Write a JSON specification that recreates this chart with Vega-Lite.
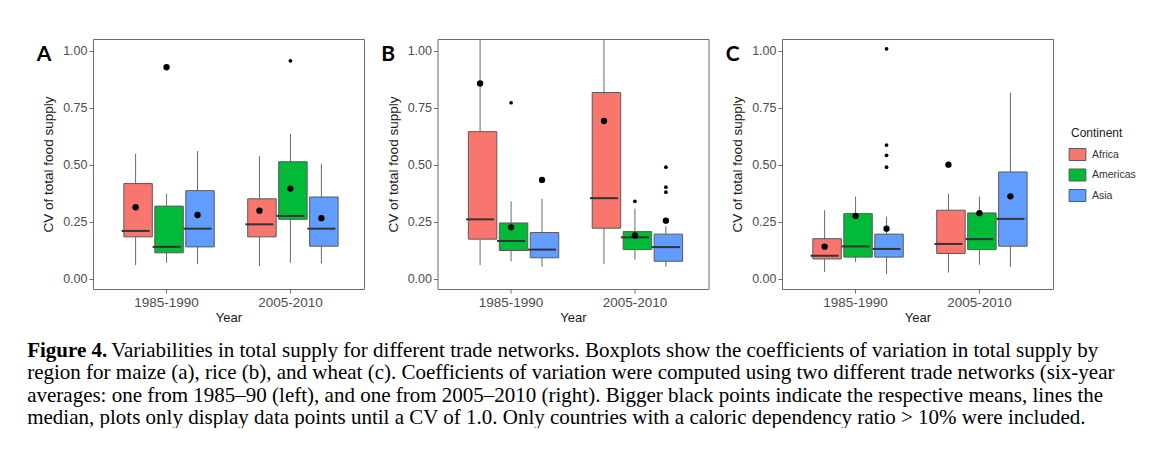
{
  "$schema": "https://vega.github.io/schema/vega-lite/v6.json",
  "background": "white",
  "padding": {"left": 27, "top": 38, "right": 0, "bottom": 0},
  "datasets": {
    "boxes": [
      {"panel": "A", "Year": "1985-1990", "Continent": "Africa", "lower": 0.059, "q1": 0.183, "median": 0.209, "q3": 0.417, "upper": 0.548, "mean": 0.313},
      {"panel": "A", "Year": "1985-1990", "Continent": "Americas", "lower": 0.069, "q1": 0.113, "median": 0.139, "q3": 0.318, "upper": 0.373, "mean": 0.928},
      {"panel": "A", "Year": "1985-1990", "Continent": "Asia", "lower": 0.063, "q1": 0.139, "median": 0.219, "q3": 0.386, "upper": 0.560, "mean": 0.279},
      {"panel": "A", "Year": "2005-2010", "Continent": "Africa", "lower": 0.054, "q1": 0.183, "median": 0.238, "q3": 0.350, "upper": 0.538, "mean": 0.298},
      {"panel": "A", "Year": "2005-2010", "Continent": "Americas", "lower": 0.069, "q1": 0.260, "median": 0.275, "q3": 0.513, "upper": 0.635, "mean": 0.395},
      {"panel": "A", "Year": "2005-2010", "Continent": "Asia", "lower": 0.066, "q1": 0.142, "median": 0.219, "q3": 0.358, "upper": 0.504, "mean": 0.265},
      {"panel": "B", "Year": "1985-1990", "Continent": "Africa", "lower": 0.059, "q1": 0.173, "median": 0.260, "q3": 0.645, "upper": 1.2, "mean": 0.857},
      {"panel": "B", "Year": "1985-1990", "Continent": "Americas", "lower": 0.075, "q1": 0.123, "median": 0.165, "q3": 0.244, "upper": 0.339, "mean": 0.225},
      {"panel": "B", "Year": "1985-1990", "Continent": "Asia", "lower": 0.051, "q1": 0.091, "median": 0.127, "q3": 0.202, "upper": 0.350, "mean": 0.433},
      {"panel": "B", "Year": "2005-2010", "Continent": "Africa", "lower": 0.063, "q1": 0.221, "median": 0.353, "q3": 0.817, "upper": 1.2, "mean": 0.692},
      {"panel": "B", "Year": "2005-2010", "Continent": "Americas", "lower": 0.083, "q1": 0.127, "median": 0.181, "q3": 0.206, "upper": 0.307, "mean": 0.189},
      {"panel": "B", "Year": "2005-2010", "Continent": "Asia", "lower": 0.051, "q1": 0.076, "median": 0.138, "q3": 0.195, "upper": 0.230, "mean": 0.254},
      {"panel": "C", "Year": "1985-1990", "Continent": "Africa", "lower": 0.029, "q1": 0.086, "median": 0.100, "q3": 0.175, "upper": 0.300, "mean": 0.140},
      {"panel": "C", "Year": "1985-1990", "Continent": "Americas", "lower": 0.072, "q1": 0.094, "median": 0.141, "q3": 0.285, "upper": 0.360, "mean": 0.275},
      {"panel": "C", "Year": "1985-1990", "Continent": "Asia", "lower": 0.019, "q1": 0.094, "median": 0.130, "q3": 0.195, "upper": 0.271, "mean": 0.219},
      {"panel": "C", "Year": "2005-2010", "Continent": "Africa", "lower": 0.026, "q1": 0.110, "median": 0.152, "q3": 0.300, "upper": 0.373, "mean": 0.500},
      {"panel": "C", "Year": "2005-2010", "Continent": "Americas", "lower": 0.060, "q1": 0.127, "median": 0.173, "q3": 0.288, "upper": 0.360, "mean": 0.287},
      {"panel": "C", "Year": "2005-2010", "Continent": "Asia", "lower": 0.051, "q1": 0.142, "median": 0.262, "q3": 0.468, "upper": 0.817, "mean": 0.361}
    ],
    "outliers": [
      {"panel": "A", "Year": "2005-2010", "Continent": "Americas", "value": 0.956},
      {"panel": "B", "Year": "1985-1990", "Continent": "Americas", "value": 0.772},
      {"panel": "B", "Year": "2005-2010", "Continent": "Americas", "value": 0.339},
      {"panel": "B", "Year": "2005-2010", "Continent": "Asia", "value": 0.489},
      {"panel": "B", "Year": "2005-2010", "Continent": "Asia", "value": 0.401},
      {"panel": "B", "Year": "2005-2010", "Continent": "Asia", "value": 0.379},
      {"panel": "B", "Year": "2005-2010", "Continent": "Asia", "value": 0.252},
      {"panel": "C", "Year": "1985-1990", "Continent": "Asia", "value": 1.009},
      {"panel": "C", "Year": "1985-1990", "Continent": "Asia", "value": 0.586},
      {"panel": "C", "Year": "1985-1990", "Continent": "Asia", "value": 0.541},
      {"panel": "C", "Year": "1985-1990", "Continent": "Asia", "value": 0.489}
    ]
  },
  "title": {
    "text": "Figure 4.",
    "subtitle": [
      "\u200b\u00a0\u200b\u00a0\u200b\u00a0\u200b\u00a0\u200b\u00a0\u200b\u00a0\u200b\u00a0\u200b\u00a0\u200b\u00a0\u200b\u00a0\u200b\u00a0\u200b\u00a0\u200b\u00a0\u200b\u00a0\u200b\u00a0\u200b\u00a0\u200bVariabilities in total supply for different trade networks. Boxplots show the coefficients of variation in total supply by",
      "region for maize (a), rice (b), and wheat (c). Coefficients of variation were computed using two different trade networks (six-year",
      "averages: one from 1985–90 (left), and one from 2005–2010 (right). Bigger black points indicate the respective means, lines the",
      "median, plots only display data points until a CV of 1.0. Only countries with a caloric dependency ratio > 10% were included."
    ],
    "orient": "bottom",
    "anchor": "start",
    "frame": "bounds",
    "font": "Liberation Serif",
    "fontSize": 21,
    "fontWeight": "bold",
    "color": "black",
    "subtitleFont": "Liberation Serif",
    "subtitleFontSize": 21,
    "subtitleColor": "black",
    "subtitleLineHeight": 22.3,
    "subtitlePadding": -21,
    "offset": 15,
    "dx": -9
  },
  "spacing": 73.5,
  "bounds": "flush",
  "hconcat": [
    {
      "width": 271, "height": 250,
      "title": {"text": "A", "anchor": "start", "frame": "bounds", "font": "Lato", "fontSize": 21, "fontWeight": "bold", "color": "black", "offset": 0, "dy": 26, "dx": -5},
      "layer": [
        {"data": {"name": "boxes"}, "transform": [{"filter": "datum.panel === 'A'"}],
         "mark": {"type": "rule", "color": "#6b6b6b", "strokeWidth": 1, "clip": true},
         "encoding": {
           "x": {"field": "Year", "type": "nominal", "scale": {"paddingInner": 0.25, "paddingOuter": 0.219}, "axis": {"title": "Year", "labelAngle": 0, "labelPadding": 2, "titlePadding": 3, "labelFontSize": 13.5, "titleFontSize": 13}},
           "xOffset": {"field": "Continent", "type": "nominal", "scale": {"domain": ["Africa", "Americas", "Asia"], "paddingInner": 0, "paddingOuter": 0}},
           "y": {"field": "lower", "type": "quantitative", "scale": {"domain": [-0.046, 1.052], "nice": false, "zero": false}, "axis": {"title": "CV of total food supply", "values": [0, 0.25, 0.5, 0.75, 1], "format": ".2f", "titlePadding": 7, "labelFontSize": 12.5, "titleFontSize": 13.5, "labelPadding": 2}},
           "y2": {"field": "upper"}}},
        {"data": {"name": "boxes"}, "transform": [{"filter": "datum.panel === 'A'"}],
         "mark": {"type": "bar", "stroke": "#5a5a5a", "strokeWidth": 1, "width": {"band": 0.92}, "clip": true},
         "encoding": {
           "x": {"field": "Year", "type": "nominal"},
           "xOffset": {"field": "Continent", "type": "nominal"},
           "y": {"field": "q1", "type": "quantitative"},
           "y2": {"field": "q3"},
           "fill": {"field": "Continent", "type": "nominal", "scale": {"domain": ["Africa", "Americas", "Asia"], "range": ["#F8766D", "#00BA38", "#619CFF"]}, "legend": {"title": "Continent"}}}},
        {"data": {"name": "boxes"}, "transform": [{"filter": "datum.panel === 'A'"}],
         "mark": {"type": "tick", "color": "#333333", "thickness": 2, "size": 28, "opacity": 1},
         "encoding": {
           "x": {"field": "Year", "type": "nominal"},
           "xOffset": {"field": "Continent", "type": "nominal"},
           "y": {"field": "median", "type": "quantitative"}}},
        {"data": {"name": "boxes"}, "transform": [{"filter": "datum.panel === 'A'"}],
         "mark": {"type": "point", "filled": true, "color": "black", "size": 40, "opacity": 1},
         "encoding": {
           "x": {"field": "Year", "type": "nominal"},
           "xOffset": {"field": "Continent", "type": "nominal"},
           "y": {"field": "mean", "type": "quantitative"}}},
        {"data": {"name": "outliers"}, "transform": [{"filter": "datum.panel === 'A'"}],
         "mark": {"type": "point", "filled": true, "color": "black", "size": 14, "opacity": 1, "clip": true},
         "encoding": {
           "x": {"field": "Year", "type": "nominal"},
           "xOffset": {"field": "Continent", "type": "nominal"},
           "y": {"field": "value", "type": "quantitative"}}}
      ]
    },
    {
      "width": 271, "height": 250,
      "title": {"text": "B", "anchor": "start", "frame": "bounds", "font": "Lato", "fontSize": 21, "fontWeight": "bold", "color": "black", "offset": 0, "dy": 26, "dx": -5},
      "layer": [
        {"data": {"name": "boxes"}, "transform": [{"filter": "datum.panel === 'B'"}],
         "mark": {"type": "rule", "color": "#6b6b6b", "strokeWidth": 1, "clip": true},
         "encoding": {
           "x": {"field": "Year", "type": "nominal", "scale": {"paddingInner": 0.25, "paddingOuter": 0.219}, "axis": {"title": "Year", "labelAngle": 0, "labelPadding": 2, "titlePadding": 3, "labelFontSize": 13.5, "titleFontSize": 13}},
           "xOffset": {"field": "Continent", "type": "nominal", "scale": {"domain": ["Africa", "Americas", "Asia"], "paddingInner": 0, "paddingOuter": 0}},
           "y": {"field": "lower", "type": "quantitative", "scale": {"domain": [-0.046, 1.052], "nice": false, "zero": false}, "axis": {"title": "CV of total food supply", "values": [0, 0.25, 0.5, 0.75, 1], "format": ".2f", "titlePadding": 7, "labelFontSize": 12.5, "titleFontSize": 13.5, "labelPadding": 2}},
           "y2": {"field": "upper"}}},
        {"data": {"name": "boxes"}, "transform": [{"filter": "datum.panel === 'B'"}],
         "mark": {"type": "bar", "stroke": "#5a5a5a", "strokeWidth": 1, "width": {"band": 0.92}, "clip": true},
         "encoding": {
           "x": {"field": "Year", "type": "nominal"},
           "xOffset": {"field": "Continent", "type": "nominal"},
           "y": {"field": "q1", "type": "quantitative"},
           "y2": {"field": "q3"},
           "fill": {"field": "Continent", "type": "nominal", "scale": {"domain": ["Africa", "Americas", "Asia"], "range": ["#F8766D", "#00BA38", "#619CFF"]}, "legend": {"title": "Continent"}}}},
        {"data": {"name": "boxes"}, "transform": [{"filter": "datum.panel === 'B'"}],
         "mark": {"type": "tick", "color": "#333333", "thickness": 2, "size": 28, "opacity": 1},
         "encoding": {
           "x": {"field": "Year", "type": "nominal"},
           "xOffset": {"field": "Continent", "type": "nominal"},
           "y": {"field": "median", "type": "quantitative"}}},
        {"data": {"name": "boxes"}, "transform": [{"filter": "datum.panel === 'B'"}],
         "mark": {"type": "point", "filled": true, "color": "black", "size": 40, "opacity": 1},
         "encoding": {
           "x": {"field": "Year", "type": "nominal"},
           "xOffset": {"field": "Continent", "type": "nominal"},
           "y": {"field": "mean", "type": "quantitative"}}},
        {"data": {"name": "outliers"}, "transform": [{"filter": "datum.panel === 'B'"}],
         "mark": {"type": "point", "filled": true, "color": "black", "size": 14, "opacity": 1, "clip": true},
         "encoding": {
           "x": {"field": "Year", "type": "nominal"},
           "xOffset": {"field": "Continent", "type": "nominal"},
           "y": {"field": "value", "type": "quantitative"}}}
      ]
    },
    {
      "width": 271, "height": 250,
      "title": {"text": "C", "anchor": "start", "frame": "bounds", "font": "Lato", "fontSize": 21, "fontWeight": "bold", "color": "black", "offset": 0, "dy": 26, "dx": -5},
      "layer": [
        {"data": {"name": "boxes"}, "transform": [{"filter": "datum.panel === 'C'"}],
         "mark": {"type": "rule", "color": "#6b6b6b", "strokeWidth": 1, "clip": true},
         "encoding": {
           "x": {"field": "Year", "type": "nominal", "scale": {"paddingInner": 0.25, "paddingOuter": 0.219}, "axis": {"title": "Year", "labelAngle": 0, "labelPadding": 2, "titlePadding": 3, "labelFontSize": 13.5, "titleFontSize": 13}},
           "xOffset": {"field": "Continent", "type": "nominal", "scale": {"domain": ["Africa", "Americas", "Asia"], "paddingInner": 0, "paddingOuter": 0}},
           "y": {"field": "lower", "type": "quantitative", "scale": {"domain": [-0.046, 1.052], "nice": false, "zero": false}, "axis": {"title": "CV of total food supply", "values": [0, 0.25, 0.5, 0.75, 1], "format": ".2f", "titlePadding": 7, "labelFontSize": 12.5, "titleFontSize": 13.5, "labelPadding": 2}},
           "y2": {"field": "upper"}}},
        {"data": {"name": "boxes"}, "transform": [{"filter": "datum.panel === 'C'"}],
         "mark": {"type": "bar", "stroke": "#5a5a5a", "strokeWidth": 1, "width": {"band": 0.92}, "clip": true},
         "encoding": {
           "x": {"field": "Year", "type": "nominal"},
           "xOffset": {"field": "Continent", "type": "nominal"},
           "y": {"field": "q1", "type": "quantitative"},
           "y2": {"field": "q3"},
           "fill": {"field": "Continent", "type": "nominal", "scale": {"domain": ["Africa", "Americas", "Asia"], "range": ["#F8766D", "#00BA38", "#619CFF"]}, "legend": {"title": "Continent"}}}},
        {"data": {"name": "boxes"}, "transform": [{"filter": "datum.panel === 'C'"}],
         "mark": {"type": "tick", "color": "#333333", "thickness": 2, "size": 28, "opacity": 1},
         "encoding": {
           "x": {"field": "Year", "type": "nominal"},
           "xOffset": {"field": "Continent", "type": "nominal"},
           "y": {"field": "median", "type": "quantitative"}}},
        {"data": {"name": "boxes"}, "transform": [{"filter": "datum.panel === 'C'"}],
         "mark": {"type": "point", "filled": true, "color": "black", "size": 40, "opacity": 1},
         "encoding": {
           "x": {"field": "Year", "type": "nominal"},
           "xOffset": {"field": "Continent", "type": "nominal"},
           "y": {"field": "mean", "type": "quantitative"}}},
        {"data": {"name": "outliers"}, "transform": [{"filter": "datum.panel === 'C'"}],
         "mark": {"type": "point", "filled": true, "color": "black", "size": 14, "opacity": 1, "clip": true},
         "encoding": {
           "x": {"field": "Year", "type": "nominal"},
           "xOffset": {"field": "Continent", "type": "nominal"},
           "y": {"field": "value", "type": "quantitative"}}}
      ]
    }
  ],
  "config": {
    "font": "Liberation Sans",
    "view": {"stroke": "#6b6b6b", "strokeWidth": 1},
    "axis": {"grid": false, "domain": false, "tickColor": "#6b6b6b", "tickSize": 4, "labelColor": "#4d4d4d", "labelFont": "Liberation Sans", "titleFont": "Liberation Sans", "titleFontWeight": "normal", "titleColor": "#1a1a1a"},
    "legend": {"orient": "none", "legendX": 978, "legendY": 89, "titleFontSize": 12, "titleFontWeight": "normal", "titleColor": "#1a1a1a", "titleFont": "Liberation Sans", "labelFont": "Liberation Sans", "labelFontSize": 10.5, "labelColor": "#333333", "symbolType": "M-1.4,-1H1.4V1H-1.4Z", "symbolSize": 144, "symbolStrokeColor": "#5a5a5a", "symbolStrokeWidth": 1, "symbolOpacity": 1, "rowPadding": 3.5, "titlePadding": 8, "labelOffset": 8}
  }
}
